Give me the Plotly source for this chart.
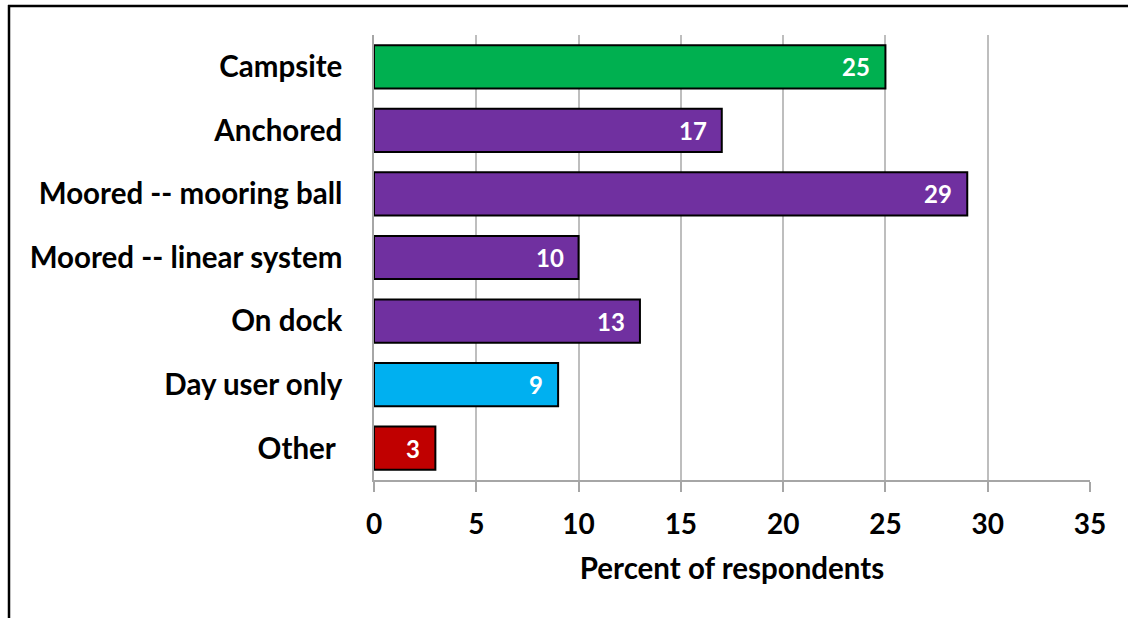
import plotly.graph_objects as go

categories = ["Campsite", "Anchored", "Moored -- mooring ball",
              "Moored -- linear system", "On dock", "Day user only", "Other"]
category_labels = ["Campsite", "Anchored", "Moored -- mooring ball",
                   "Moored -- linear system", "On dock", "Day user only", "Other\u00a0"]
values = [25, 17, 29, 10, 13, 9, 3]
bar_colors = ["#00B050", "#7030A0", "#7030A0", "#7030A0", "#7030A0", "#00B0F0", "#C00000"]
x_ticks = [0, 5, 10, 15, 20, 25, 30, 35]

FONT = "Lato"

fig = go.Figure(
    go.Bar(
        y=categories,
        x=values,
        orientation="h",
        marker=dict(color=bar_colors, line=dict(color="black", width=2)),
        hoverinfo="x+y",
    )
)

# value labels just inside the end of each bar
for cat, v in zip(categories, values):
    fig.add_annotation(
        x=v, y=cat, xref="x", yref="y",
        text=str(v), showarrow=False,
        xanchor="right", xshift=-13,
        font=dict(family=FONT, size=24, color="white", weight="bold"),
    )

fig.update_layout(
    width=1129,
    height=618,
    margin=dict(l=374, r=39, t=35, b=138),
    paper_bgcolor="white",
    plot_bgcolor="white",
    bargap=0.32,
    showlegend=False,
    font=dict(family=FONT, color="black"),
)

fig.update_xaxes(
    range=[0, 35],
    tickvals=x_ticks,
    ticktext=[str(t) for t in x_ticks],
    tickfont=dict(family=FONT, size=28, color="black", weight="bold"),
    showgrid=True,
    gridcolor="#BEBEBE",
    gridwidth=1.5,
    showline=True,
    linecolor="#A6A6A6",
    linewidth=1.5,
    ticks="outside",
    ticklen=10,
    tickcolor="#A6A6A6",
    tickwidth=1.5,
    ticklabelstandoff=9,
    zeroline=False,
    title=dict(text="Percent of respondents",
               font=dict(family=FONT, size=29.5, color="black", weight="bold"),
               standoff=19),
)

fig.update_yaxes(
    categoryorder="array",
    categoryarray=categories,
    tickvals=categories,
    ticktext=category_labels,
    autorange="reversed",
    tickfont=dict(family=FONT, size=29.5, color="black", weight="bold"),
    showline=True,
    linecolor="#A6A6A6",
    linewidth=1.5,
    ticks="",
    ticklabelstandoff=24,
    showgrid=False,
)

# outer frame lines (top and left)
fig.add_shape(type="line", xref="paper", yref="paper",
              x0=(8 - 374) / 716, x1=(1128 - 374) / 716,
              y0=(480 - 6) / 445, y1=(480 - 6) / 445,
              line=dict(color="black", width=2.5))
fig.add_shape(type="line", xref="paper", yref="paper",
              x0=(9 - 374) / 716, x1=(9 - 374) / 716,
              y0=(480 - 5) / 445, y1=(480 - 620) / 445,
              line=dict(color="black", width=2.5))

fig.write_html("out.html")
